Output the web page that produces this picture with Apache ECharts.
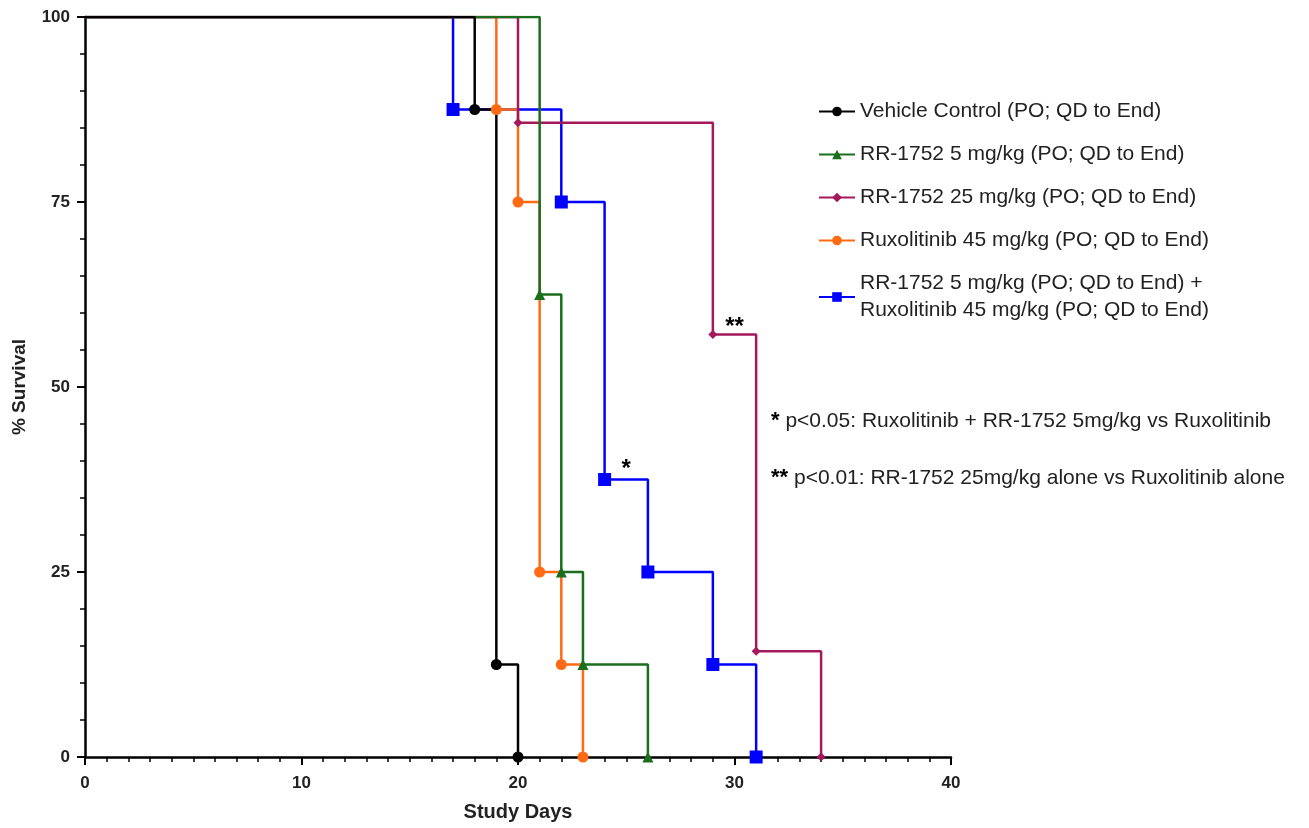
<!DOCTYPE html>
<html>
<head>
<meta charset="utf-8">
<script src="https://cdn.jsdelivr.net/npm/echarts@6/dist/echarts.min.js"></script>
<style>
  html, body { margin: 0; padding: 0; background: #fff; }
  #chart { width: 1309px; height: 828px; }
</style>
</head>
<body>
<div id="chart"></div>
<script>
// survival data, step down at each event day
const vehicleDays = [0, 18, 19, 20]
const vehicleSurv = [100, 87.5, 12.5, 0]
const rr5Days = [0, 21, 22, 23, 26]
const rr5Surv = [100, 62.5, 25, 12.5, 0]
const rr25Days = [0, 20, 29, 31, 34]
const rr25Surv = [100, 85.7, 57.1, 14.3, 0]
const ruxDays = [0, 19, 20, 21, 22, 23]
const ruxSurv = [100, 87.5, 75, 25, 12.5, 0]
const comboDays = [0, 17, 22, 24, 26, 29, 31]
const comboSurv = [100, 87.5, 75, 37.5, 25, 12.5, 0]

const names = [
  'Vehicle Control (PO; QD to End)',
  'RR-1752 5 mg/kg (PO; QD to End)',
  'RR-1752 25 mg/kg (PO; QD to End)',
  'Ruxolitinib 45 mg/kg (PO; QD to End)',
  'RR-1752 5 mg/kg (PO; QD to End) +\nRuxolitinib 45 mg/kg (PO; QD to End)'
]
const xTicks = [0, 10, 20, 30, 40]
const yTicks = [0, 25, 50, 75, 100]

const FONT = '"Liberation Sans", Arial, sans-serif'

function toData (days, surv) {
  return days.map((d, i) => i === 0 ? { value: [d, surv[i]], symbol: 'none' } : [d, surv[i]])
}

function km (name, days, surv, color, symbol, size, extra) {
  return Object.assign({
    name: name,
    type: 'line',
    step: 'end',
    data: toData(days, surv),
    symbol: symbol,
    symbolSize: size,
    showAllSymbol: true,
    animation: false,
    lineStyle: { color: color, width: 2.5 },
    itemStyle: { color: color }
  }, extra || {})
}

const chart = echarts.init(document.getElementById('chart'))
chart.setOption({
  backgroundColor: '#fff',
  textStyle: { fontFamily: FONT },
  grid: { left: 85, top: 17, width: 866, height: 740, containLabel: false },
  legend: {
    orient: 'vertical',
    left: 813,
    top: 93,
    itemWidth: 36,
    itemHeight: 12,
    itemGap: 16,
    textStyle: { fontSize: 21, color: '#222', lineHeight: 27, fontFamily: FONT },
    data: names
  },
  xAxis: {
    type: 'value',
    min: 0,
    max: 40,
    interval: 10,
    name: 'Study Days',
    nameLocation: 'middle',
    nameGap: 45,
    nameTextStyle: { fontSize: 20, fontWeight: 'bold', color: '#222' },
    axisLine: { lineStyle: { color: '#000', width: 2.5 } },
    axisTick: { show: true, inside: false, length: 8, lineStyle: { color: '#000', width: 2 } },
    minorTick: { show: true, splitNumber: 10, length: 5, lineStyle: { color: '#000', width: 1.5 } },
    splitLine: { show: false },
    axisLabel: { fontSize: 17, fontWeight: 'bold', color: '#222', margin: 18, formatter: v => xTicks.includes(v) ? String(v) : '' }
  },
  yAxis: {
    type: 'value',
    min: 0,
    max: 100,
    interval: 25,
    name: '% Survival',
    nameLocation: 'middle',
    nameGap: 56,
    nameTextStyle: { fontSize: 19, fontWeight: 'bold', color: '#222' },
    axisLine: { show: true, lineStyle: { color: '#000', width: 2.5 } },
    axisTick: { show: true, inside: false, length: 8, lineStyle: { color: '#000', width: 2 } },
    minorTick: { show: true, splitNumber: 5, length: 5, lineStyle: { color: '#000', width: 1.5 } },
    splitLine: { show: false },
    axisLabel: { fontSize: 17, fontWeight: 'bold', color: '#222', margin: 15, formatter: v => yTicks.includes(v) ? String(v) : '' }
  },
  series: [
    km(names[4], comboDays, comboSurv, '#0000ff', 'rect', 13, {
      markPoint: {
        symbol: 'circle', symbolSize: 0, silent: true,
        label: { show: true, formatter: '*', fontSize: 24, fontWeight: 'bold', color: '#000', offset: [0, -10] },
        data: [{ coord: [25, 37.5] }]
      }
    }),
    km(names[3], ruxDays, ruxSurv, '#ff6a13', 'circle', 11),
    km(names[2], rr25Days, rr25Surv, '#a3195b', 'diamond', 9, {
      markPoint: {
        symbol: 'circle', symbolSize: 0, silent: true,
        label: { show: true, formatter: '**', fontSize: 24, fontWeight: 'bold', color: '#000', offset: [0, -7] },
        data: [{ coord: [30, 57.1] }]
      }
    }),
    km(names[1], rr5Days, rr5Surv, '#1b6e1b', 'triangle', 11),
    km(names[0], vehicleDays, vehicleSurv, '#000000', 'circle', 11)
  ],
  graphic: [
    {
      type: 'text', left: 771, top: 410,
      style: {
        text: '{b|*} p<0.05: Ruxolitinib + RR-1752 5mg/kg vs Ruxolitinib',
        fill: '#222', font: '21px ' + FONT,
        rich: { b: { fontSize: 22, fontWeight: 'bold', fill: '#000', verticalAlign: 'top' } }
      }
    },
    {
      type: 'text', left: 771, top: 467,
      style: {
        text: '{b|**} p<0.01: RR-1752 25mg/kg alone vs Ruxolitinib alone',
        fill: '#222', font: '21px ' + FONT,
        rich: { b: { fontSize: 22, fontWeight: 'bold', fill: '#000', verticalAlign: 'top' } }
      }
    }
  ]
})
</script>
</body>
</html>
